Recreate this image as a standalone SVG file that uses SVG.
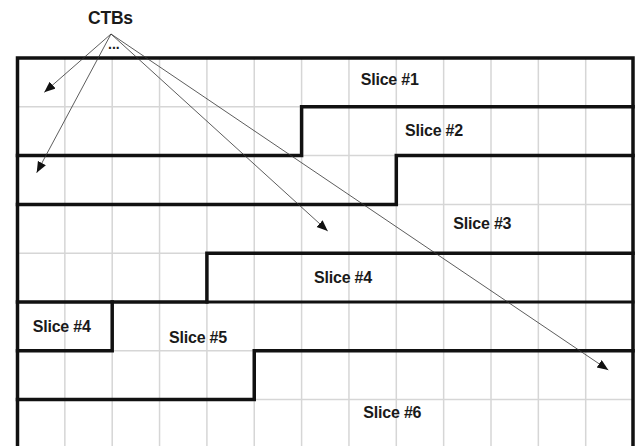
<svg xmlns="http://www.w3.org/2000/svg" width="635" height="446" viewBox="0 0 635 446">
<style>
.grid{stroke:#d6d6d6;stroke-width:1.5;fill:none}
.thick{stroke:#111;stroke-width:3.5;fill:none;stroke-linejoin:miter;stroke-linecap:square}
.arrow{stroke:#333;stroke-width:0.8;fill:none}
.lbl{font-family:"Liberation Sans",Arial,sans-serif;font-weight:bold;font-size:16px;letter-spacing:-0.2px;fill:#1a1a1a}
</style>
<defs>
<marker id="ah" markerUnits="userSpaceOnUse" markerWidth="12" markerHeight="10" refX="11" refY="4.5" orient="auto">
<path d="M0,0 L11,4.5 L0,9 z" fill="#111"/>
</marker>
</defs>
<rect width="635" height="446" fill="#fff"/>
<g id="grid">
<path class="grid" d="M64.85,58V446 M112.2,58V446 M159.55,58V446 M206.9,58V446 M254.25,58V446 M301.6,58V446 M348.95,58V446 M396.3,58V446 M443.65,58V446 M491,58V446 M538.35,58V446 M585.7,58V446"/>
<path class="grid" d="M17.5,106.8H633 M17.5,155.6H633 M17.5,204.4H633 M17.5,253.2H633 M17.5,302H633 M17.5,350.8H633 M17.5,399.6H633"/>
</g>
<g id="slices">
<path id="outline" class="thick" d="M17.5,448V58H633V448"/>
<path id="b12" class="thick" d="M17.5,155.6H301.6V106.8H633"/>
<path id="b23" class="thick" d="M17.5,204.4H396.3V155.6H633"/>
<path id="b34" class="thick" d="M17.5,302H206.9V253.2H633"/>
<path id="b45" class="thick" style="stroke-width:3" d="M206.9,302H633"/>
<path id="box4" class="thick" d="M112.2,302V350.8H17.5"/>
<path id="b56" class="thick" d="M17.5,399.6H254.25V350.8H633"/>
</g>
<g id="connectors">
<line class="arrow" x1="111" y1="34" x2="44.3" y2="92.3" marker-end="url(#ah)"/>
<line class="arrow" x1="111" y1="34" x2="36.7" y2="172.7" marker-end="url(#ah)"/>
<line class="arrow" x1="111" y1="34" x2="327.7" y2="231" marker-end="url(#ah)"/>
<line class="arrow" x1="111" y1="34" x2="608.3" y2="370" marker-end="url(#ah)"/>
</g>
<g id="ctbs"><text class="lbl" x="88" y="24" style="font-size:17.5px">CTBs</text>
<text class="lbl" x="108" y="49" style="font-size:14px;letter-spacing:0">...</text></g>
<g id="slice1"><text class="lbl" x="360.7" y="85">Slice #1</text></g>
<g id="slice2"><text class="lbl" x="405" y="136">Slice #2</text></g>
<g id="slice3"><text class="lbl" x="453.3" y="229">Slice #3</text></g>
<g id="slice4a"><text class="lbl" x="314" y="282.7">Slice #4</text></g>
<g id="slice4b"><text class="lbl" x="32.7" y="332">Slice #4</text></g>
<g id="slice5"><text class="lbl" x="169" y="342.7">Slice #5</text></g>
<g id="slice6"><text class="lbl" x="363.3" y="417.7">Slice #6</text></g>
</svg>
